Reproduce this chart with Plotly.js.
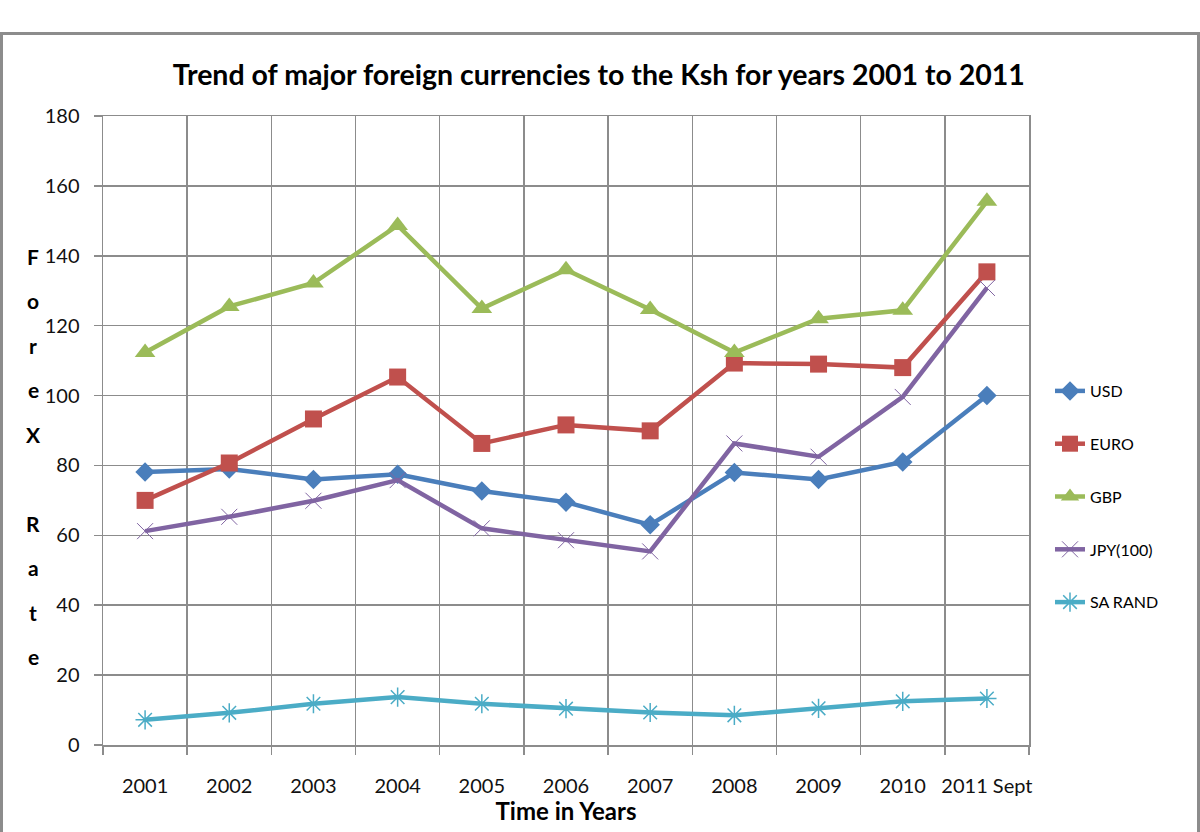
<!DOCTYPE html>
<html>
<head>
<meta charset="utf-8">
<script src="https://cdn.plot.ly/plotly-3.0.1.min.js"></script>
<style>
  html, body { margin: 0; padding: 0; background: #ffffff; }
  #frame { position: absolute; left: 0px; top: 32px; width: 1194px; height: 820px; border: 3px solid #8c8c8c; }
  #chart { position: absolute; left: 0; top: 0; width: 1200px; height: 832px; }
</style>
</head>
<body>
<div id="frame"></div>
<div id="chart"></div>
<script>
const years = ["2001", "2002", "2003", "2004", "2005", "2006", "2007", "2008", "2009", "2010", "2011 Sept"];
const usd    = [78.1, 79, 76, 77.5, 72.7, 69.5, 63, 78, 76, 81, 100];
const euro   = [70, 80.7, 93.3, 105.3, 86.3, 91.6, 89.9, 109.3, 109, 108, 135.4];
const gbp    = [112.3, 125.5, 132.2, 148.7, 124.9, 136, 124.6, 112.3, 122, 124.4, 155.6];
const jpy    = [61.2, 65.3, 69.9, 75.8, 62, 58.6, 55.4, 86.3, 82.5, 99.6, 130.8];
const rand   = [7.2, 9.2, 11.8, 13.7, 11.8, 10.4, 9.3, 8.5, 10.5, 12.5, 13.3];
const seriesNames = ["USD", "EURO", "GBP", "JPY(100)", "SA RAND"];
const yLetters = ["F", "o", "r", "e", "X", "", "R", "a", "t", "e"];

const FONT = "Lato, 'Open Sans', 'DejaVu Sans', sans-serif";

function tr(name, y, color, marker) {
  return {
    type: "scatter", mode: "lines+markers", name: name, x: years, y: y,
    legendgroup: name,
    line: { color: color, width: 4.5 },
    marker: marker
  };
}

const data = [
  tr(seriesNames[0], usd,  "#4A7EBB", { symbol: "diamond", size: 15, color: "#4A7EBB" }),
  tr(seriesNames[1], euro, "#C0504D", { symbol: "square", size: 17, color: "#C0504D" }),
  tr(seriesNames[2], gbp,  "#9BBB59", { symbol: "triangle-up", size: 18, color: "#9BBB59" }),
  tr(seriesNames[3], jpy,  "#8064A2", { symbol: "x-thin-open", size: 16, color: "#8064A2", line: { color: "#8064A2", width: 1 } }),
  tr(seriesNames[4], rand, "#4BACC6", { symbol: "asterisk-open", size: 16, color: "#4BACC6", line: { color: "#4BACC6", width: 1.5 } })
];

const annotations = [];
const letterTop = 256, letterStep = 44.5;
yLetters.forEach((ch, i) => {
  if (!ch) return;
  annotations.push({
    xref: "paper", yref: "paper",
    x: (33 - 103) / 926, y: (745 - (letterTop + i * letterStep)) / 629,
    xanchor: "center", yanchor: "middle", showarrow: false,
    text: ch, font: { family: FONT, size: 21, color: "#000000", weight: "bold" }
  });
});

const gridColor = "#8c8c8c";

const layout = {
  width: 1200, height: 832,
  margin: { l: 103, r: 171, t: 116, b: 87 },
  paper_bgcolor: "rgba(0,0,0,0)",
  plot_bgcolor: "#ffffff",
  font: { family: FONT, color: "#000000" },
  title: {
    text: "<b>Trend of major foreign currencies to the Ksh for years 2001 to 2011</b>",
    x: 0.499, xanchor: "center", y: 1 - 75 / 832, yanchor: "middle",
    font: { family: FONT, size: 28.5, color: "#000000" }
  },
  xaxis: {
    type: "category",
    range: [-0.5, 10.5],
    tickson: "boundaries",
    tickangle: 0,
    showgrid: true, gridcolor: gridColor, gridwidth: 1.5,
    showline: true, linecolor: gridColor, linewidth: 1.5, mirror: true,
    ticks: "outside", ticklen: 8, tickcolor: gridColor, tickwidth: 1.5,
    tickfont: { family: FONT, size: 20, color: "#111111" },
    ticklabelstandoff: 22,
    title: { text: "<b>Time in Years</b>", font: { family: FONT, size: 24, color: "#000000" }, standoff: 6 },
    fixedrange: true
  },
  yaxis: {
    range: [0, 180], dtick: 20, tick0: 0,
    showgrid: true, gridcolor: gridColor, gridwidth: 1.5,
    showline: true, linecolor: gridColor, linewidth: 1.5, mirror: true,
    zeroline: false,
    ticks: "outside", ticklen: 8, tickcolor: gridColor, tickwidth: 1.5,
    tickfont: { family: FONT, size: 20, color: "#111111" },
    ticklabelstandoff: 10,
    fixedrange: true
  },
  legend: {
    x: (1050 - 103) / 926, xanchor: "left",
    y: (745 - 374) / 629, yanchor: "top",
    font: { family: FONT, size: 16, color: "#000000" },
    tracegroupgap: 29,
    bgcolor: "rgba(0,0,0,0)"
  },
  showlegend: true,
  annotations: annotations
};

Plotly.newPlot("chart", data, layout, { displayModeBar: false, staticPlot: true });
</script>
</body>
</html>
